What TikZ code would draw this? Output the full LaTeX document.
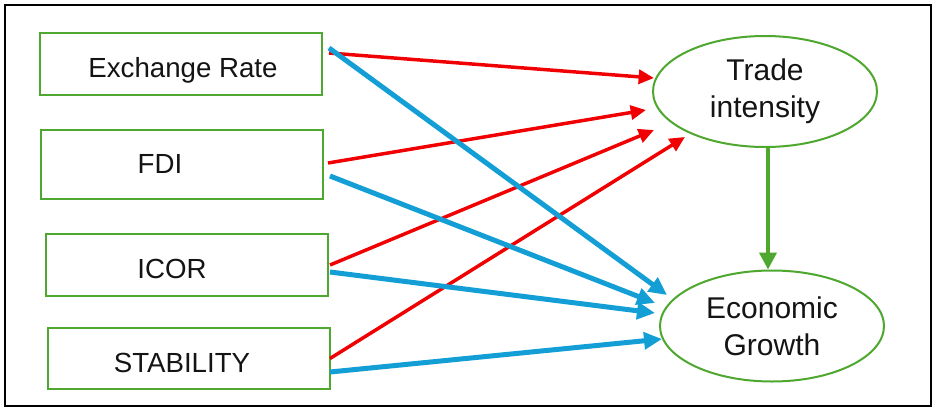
\documentclass[tikz,border=0pt]{standalone}
\usepackage{fontspec}
\setmainfont{Liberation Sans}
\usetikzlibrary{arrows.meta,shapes.geometric,calc}

\definecolor{boxgreen}{RGB}{78,167,46}
\definecolor{linkred}{RGB}{240,0,0}
\definecolor{linkblue}{RGB}{20,158,214}
\definecolor{inkdark}{RGB}{20,20,20}

\tikzset{
  varbox/.style={draw=boxgreen, line width=1.5pt, rectangle, minimum width=211.5pt, inner sep=0pt},
  varlabel/.style={anchor=base, inner sep=0pt, text=inkdark, font=\fontsize{20.75}{27.75}\selectfont},
  outcome/.style={draw=boxgreen, line width=1.5pt, ellipse, minimum width=168pt, minimum height=83.25pt,
    inner sep=0pt, align=center, text=inkdark, font=\fontsize{22.5}{27.75}\selectfont},
  redlink/.style={draw=linkred, line width=2.6pt, -{Triangle[length=11.5pt,width=10.5pt]}},
  bluelink/.style={draw=linkblue, line width=3.75pt, -{Triangle[length=13.5pt,width=12.5pt]}},
  greenlink/.style={draw=boxgreen, line width=3pt, -{Triangle[length=12.75pt,width=12.75pt]}}
}

\begin{document}
\begin{tikzpicture}[x=0.75pt,y=-0.75pt]
  \useasboundingbox (0,0) rectangle (933,408);
  \fill[white] (0,0) rectangle (933,408);
  \draw[black, line width=1.5pt] (5,5) rectangle (931,406);

  % explanatory variables
  \node[varbox, minimum height=46.5pt] (er)   at (181,64)    {};
  \node[varbox, minimum height=51.75pt] (fdi) at (182,164.5) {};
  \node[varbox, minimum height=46.5pt] (icor) at (187,265)   {};
  \node[varbox, minimum height=45.75pt] (stab) at (189,358.5) {};

  \node[varlabel] (erT)   at (183,77)  {Exchange Rate};
  \node[varlabel] (fdiT)  at (160,173) {FDI};
  \node[varlabel] (icorT) at (172,278) {ICOR};
  \node[varlabel] (stabT) at (182,372) {STABILITY};

  % mediator and outcome
  \node[outcome] (ti) at (765,91.5) {Trade\\intensity};
  \node[outcome] (eg) at (772,326)  {Economic\\Growth};

  % paths into trade intensity
  \draw[redlink] ([shift={(6,-11)}]er.east)  -- ([shift={(-111,-13.5)}]ti.center);
  \draw[redlink] ([shift={(4,-1.5)}]fdi.east) -- ([shift={(-119,18.5)}]ti.center);
  \draw[redlink] ([shift={(1,0)}]icor.east)   -- ([shift={(-111,38.5)}]ti.center);
  \draw[redlink] ([shift={(-1,0)}]stab.east)  -- ([shift={(-80,45.5)}]ti.center);

  % paths into economic growth
  \draw[bluelink] ([shift={(6,-16)}]er.east)   -- ([shift={(-105,-31)}]eg.center);
  \draw[bluelink] ([shift={(6,11.5)}]fdi.east) -- ([shift={(-117,-23)}]eg.center);
  \draw[bluelink] ([shift={(1,7)}]icor.east)   -- ([shift={(-117,-13)}]eg.center);
  \draw[bluelink] ([shift={(-1,13.5)}]stab.east) -- ([shift={(-110,13)}]eg.center);

  % mediator to outcome
  \draw[greenlink] ([xshift=2.25pt]ti.south) -- ([xshift=2.25pt]ti.south |- eg.north);
\end{tikzpicture}
\end{document}
